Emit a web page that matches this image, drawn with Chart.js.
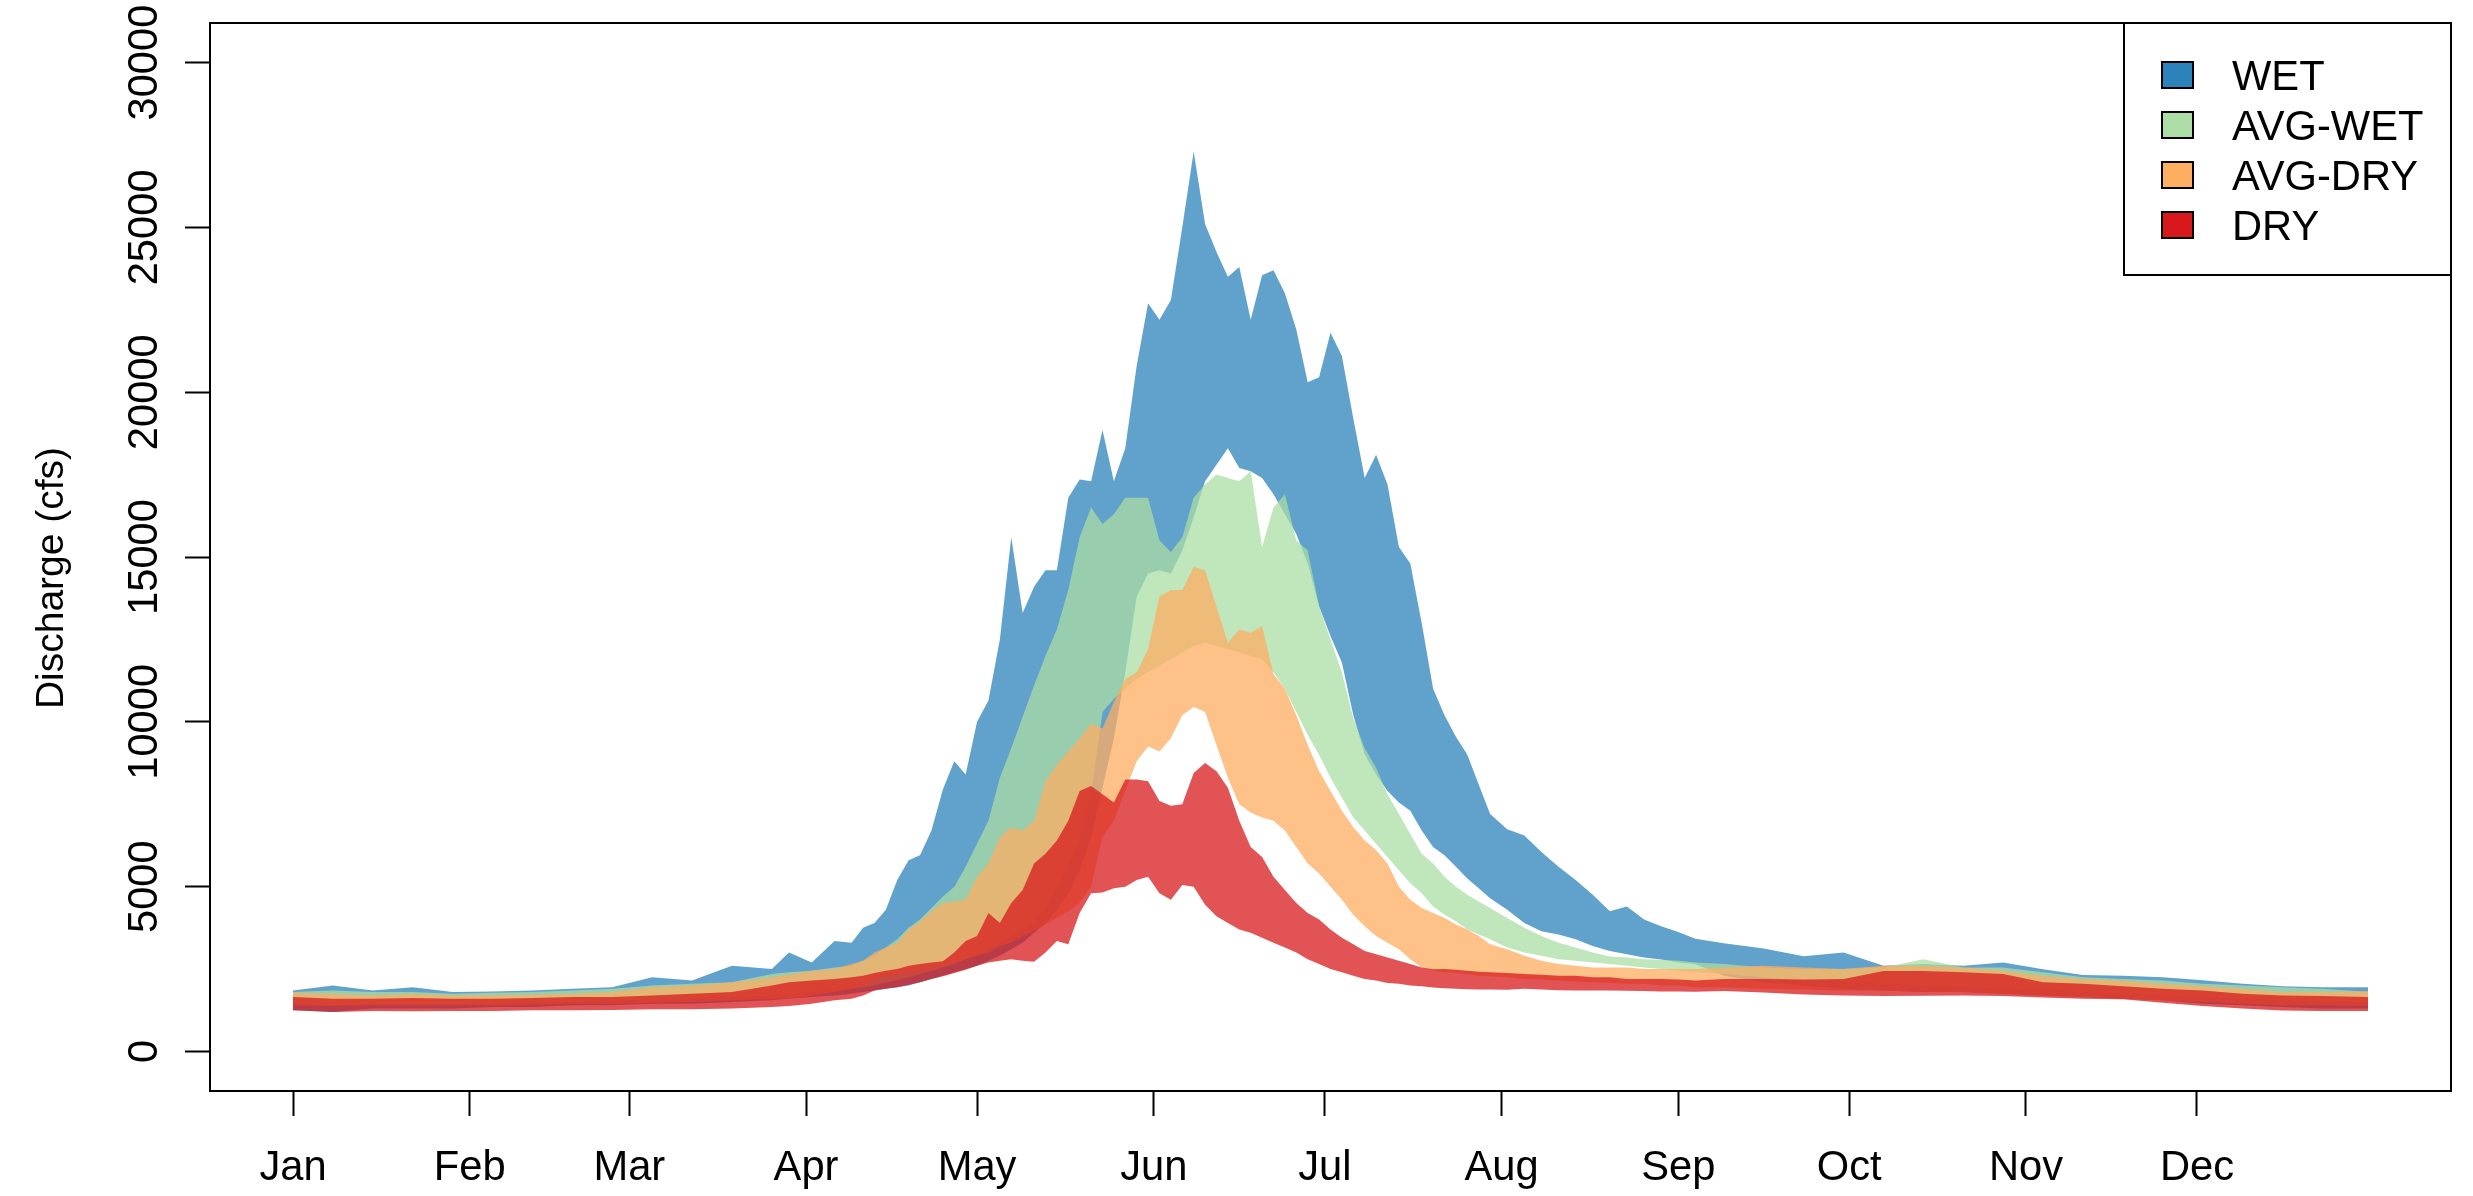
<!DOCTYPE html>
<html>
<head>
<meta charset="utf-8">
<script src="https://cdn.jsdelivr.net/npm/chart.js@4.4.1/dist/chart.umd.min.js"></script>
<style>
  html, body { margin: 0; padding: 0; background: #fff; }
  #wrap { width: 2473px; height: 1196px; }
</style>
</head>
<body>
<div id="wrap"><canvas id="flowChart" width="2473" height="1196"></canvas></div>
<script>
// Daily discharge envelopes (min/max) by year type
const days = [
  1, 8, 15, 22, 29, 36, 43, 50, 57, 64, 71, 78, 85,
  88, 92, 96, 99,
  101, 103, 105, 107, 109, 111, 113, 115, 117, 119,
  121, 123, 125, 127, 129, 131, 133, 135, 137, 139,
  141, 143, 145, 147, 149, 151, 153, 155, 157, 159,
  161, 163, 165, 167, 169, 171, 173, 175, 177, 179,
  181, 183, 185, 187, 189, 191, 193, 195, 197, 199,
  201, 203, 205, 207, 209, 211,
  214, 217, 220, 223, 226, 229, 232, 235, 238, 241, 244, 247,
  252, 259, 266, 273, 280, 287, 294, 301, 308, 315, 322, 329, 336, 343, 350, 357, 365
];

const wetHi = [
  1850, 2000, 1850, 1950, 1800, 1820, 1850, 1900, 1950, 2250, 2150, 2600, 2500,
  3000, 2700, 3350, 3300,
  3750, 3900, 4300, 5200, 5800, 5950, 6700, 7950, 8800, 8400,
  10000, 10650, 12500, 15600, 13300, 14100, 14600, 14600, 16800, 17350,
  17300, 18850, 17300, 18300, 20800, 22700, 22200, 22800, 25000, 27300,
  25100, 24250, 23500, 23800, 22200, 23550, 23700, 23000, 21900, 20300,
  20450, 21800, 21100, 19200, 17400, 18100, 17200, 15300, 14800, 13000,
  11000, 10200, 9550, 9000, 8100, 7200,
  6740, 6550, 6050, 5600, 5200, 4750, 4250, 4400, 4000, 3800, 3620, 3420,
  3280, 3120, 2890, 3000, 2600, 2650, 2600, 2700, 2490, 2320, 2300, 2250, 2160, 2050, 1980, 1950, 1950
];
const wetLo = [
  1250, 1200, 1300, 1300, 1300, 1350, 1350, 1400, 1400, 1450, 1450, 1500, 1550,
  1600, 1650, 1700, 1750,
  1800, 1850, 1900, 1950, 2000, 2100, 2200, 2300, 2400, 2500,
  2600, 2750, 2900, 3100, 3300, 3600, 3900, 4300, 4800, 5500,
  6500, 8000, 9500, 11500, 13800, 14500, 14600, 14500, 15200, 16200,
  17300, 17800, 18300, 17700, 17600, 17400, 16900, 16300, 15700, 14800,
  13500, 12600, 11800, 10200, 9000, 8400, 7900, 7550, 7300, 6700,
  6200, 5950, 5600, 5250, 4950, 4650,
  4300, 3900, 3650, 3550, 3400, 3200, 3050, 2950, 2850, 2790, 2700, 2650,
  2300, 2100, 2000, 1900, 1850, 1800, 1800, 1750, 1700, 1650, 1600, 1550, 1450, 1400, 1350, 1300, 1300
];

const avgWetHi = [
  1800, 1850, 1800, 1800, 1750, 1780, 1800, 1850, 1900, 2000, 2050, 2100, 2350,
  2400, 2450, 2550, 2600,
  2750, 2900, 3150, 3400, 3750, 4000, 4350, 4700, 5000, 5600,
  6300, 7000, 8300, 9200, 10150, 11100, 12000, 12800, 14000, 15600,
  16500, 16000, 16300, 16800, 16800, 16800, 15500, 15150, 15600, 16800,
  17200, 17500, 17400, 17300, 17600, 15300, 16500, 16900, 15500, 15200,
  13500, 12500, 11500, 10100, 9200, 8600, 7800, 7200, 6600, 6000,
  5700, 5300, 5000, 4750, 4550, 4350,
  4050, 3750, 3500, 3300, 3150, 3000, 2880, 2850, 2800, 2780, 2750, 2700,
  2650, 2550, 2500, 2500, 2550, 2800, 2550, 2550, 2400, 2250, 2200, 2150, 2050, 2000, 1950, 1900, 1800
];
const avgWetLo = [
  1450, 1400, 1450, 1450, 1450, 1450, 1500, 1500, 1550, 1550, 1600, 1650, 1700,
  1750, 1800, 1850, 1900,
  1950, 2000, 2100, 2150, 2250, 2350, 2450, 2550, 2650, 2800,
  2950, 3100, 3300, 3500, 3700, 3900, 4300, 4900, 5600, 6400,
  7800, 10300, 10700, 11000, 11300, 11500, 11700, 11900, 12100, 12300,
  12400, 12300, 12200, 12100, 12000, 11900, 11500, 11000, 10300, 9600,
  9000, 8300, 7700, 7100, 6700, 6300, 5900, 5500, 5100, 4800,
  4400, 4150, 3950, 3700, 3550, 3400,
  3150, 3000, 2900, 2800, 2750, 2700, 2650, 2600, 2550, 2500, 2450, 2400,
  2350, 2250, 2150, 2100, 2050, 2000, 1950, 1900, 1850, 1800, 1750, 1700, 1650, 1600, 1550, 1500, 1500
];

const avgDryHi = [
  1780, 1750, 1700, 1750, 1700, 1700, 1720, 1750, 1800, 1950, 2000, 2100, 2250,
  2330, 2450, 2500, 2650,
  2750, 3000, 3150, 3300, 3700, 3950, 4250, 4500, 4550, 4600,
  5300, 5700, 6500, 6800, 6700, 7000, 8200, 8700, 9100, 9500,
  9950, 9800, 10600, 11300, 11500, 12200, 13800, 14000, 14000, 14700,
  14600, 13500, 12400, 12800, 12700, 12900, 11450, 11000, 10200, 9300,
  8500, 7900, 7300, 6800, 6400, 6100, 5700, 5000, 4600, 4350,
  4200, 4050, 3850, 3700, 3500, 3250,
  3100, 2900, 2750, 2650, 2600, 2550, 2550, 2550, 2500, 2500, 2500, 2500,
  2550, 2600, 2550, 2500, 2600, 2600, 2550, 2450, 2300, 2200, 2150, 2050, 1980, 1900, 1800, 1800, 1830
];
const avgDryLo = [
  1400, 1380, 1400, 1400, 1400, 1400, 1420, 1450, 1450, 1480, 1500, 1550, 1580,
  1600, 1700, 1800, 1900,
  2000, 2200, 2300, 2350, 2400, 2450, 2500, 2600, 2700, 2800,
  2900, 3000, 3200, 3300, 3500, 3650, 3850, 4050, 4250, 4500,
  5000, 6500, 7000, 7900, 8800, 9250, 9100, 9500, 10200, 10450,
  10300, 9300, 8300, 7500, 7250, 7100, 7000, 6700, 6200, 5700,
  5400, 5000, 4600, 4150, 3800, 3500, 3300, 3100, 2800, 2550,
  2450, 2400, 2380, 2350, 2300, 2280,
  2250, 2200, 2180, 2150, 2120, 2100, 2080, 2050, 2050, 2000, 2000, 1950,
  1950, 1900, 1880, 1850, 1850, 1800, 1800, 1750, 1700, 1650, 1600, 1550, 1500, 1450, 1400, 1400, 1380
];

const dryHi = [
  1650, 1600, 1600, 1620, 1600, 1600, 1620, 1650, 1650, 1700, 1750, 1800, 2000,
  2100, 2150, 2200, 2250,
  2300, 2380, 2450, 2500, 2600, 2650, 2700, 2740, 3000, 3350,
  3500, 4200, 3900, 4500, 4900, 5700, 6000, 6400, 7000, 7900,
  8050, 7800, 7550, 8250, 8250, 8200, 7600, 7450, 7500, 8450,
  8750, 8500, 8000, 7000, 6200, 5900, 5300, 4900, 4500, 4200,
  4000, 3700, 3450, 3250, 3050, 2950, 2850, 2750, 2650, 2550,
  2490, 2500, 2480, 2450, 2420, 2400,
  2380, 2350, 2330, 2300, 2300, 2250, 2250, 2200, 2200, 2200, 2180, 2150,
  2200, 2200, 2180, 2200, 2440, 2440, 2400, 2350, 2100, 2050, 1980, 1900, 1850, 1750, 1700, 1680, 1650
];
const dryLo = [
  1250, 1200, 1230, 1220, 1230, 1230, 1250, 1250, 1260, 1280, 1280, 1300, 1350,
  1380, 1450, 1550, 1600,
  1700, 1850, 1900, 1950, 2020, 2100, 2200, 2280, 2380, 2480,
  2600, 2700, 2750, 2800, 2750, 2720, 3000, 3350, 3250, 4200,
  4800, 4820, 4950, 5000, 5200, 5300, 4800, 4600, 5050, 5000,
  4450, 4100, 3900, 3700, 3600, 3450, 3300, 3150, 3000, 2800,
  2650, 2500, 2400, 2300, 2200, 2150, 2080, 2050, 2000, 1980,
  1940, 1920, 1900, 1890, 1880, 1880,
  1870, 1900, 1880, 1860, 1850, 1850, 1850, 1840, 1830, 1820, 1820, 1810,
  1830, 1790, 1730, 1700, 1680, 1690, 1700, 1680, 1640, 1600, 1580, 1480, 1380, 1300, 1240, 1230, 1230
];

const monthDays = [1, 32, 60, 91, 121, 152, 182, 213, 244, 274, 305, 335];
const monthLabels = ['Jan', 'Feb', 'Mar', 'Apr', 'May', 'Jun', 'Jul', 'Aug', 'Sep', 'Oct', 'Nov', 'Dec'];
const yTicks = [0, 5000, 10000, 15000, 20000, 25000, 30000];

const legendNames = ['WET', 'AVG-WET', 'AVG-DRY', 'DRY'];
const legendColors = ['#2b83ba', '#abdda4', '#fdae61', '#d7191c'];

const FONT = '"Liberation Sans", Arial, sans-serif';
const FONT_PX = 41.7;
const TITLE_PX = 39;

// polygon: upper edge forward, lower edge back
function bandPoints(hi, lo) {
  const pts = days.map((d, i) => ({ x: d, y: hi[i] }));
  for (let i = days.length - 1; i >= 0; i--) pts.push({ x: days[i], y: lo[i] });
  return pts;
}

function bandSet(label, hi, lo, fillColor, order) {
  return {
    label: label,
    data: bandPoints(hi, lo),
    backgroundColor: fillColor,
    borderColor: 'rgba(0,0,0,0)',
    borderWidth: 0,
    pointRadius: 0,
    fill: 'shape',
    order: order
  };
}

// box around the plot region
const framePlugin = {
  id: 'frame',
  afterDraw(chart) {
    const { ctx, chartArea: a } = chart;
    ctx.save();
    ctx.strokeStyle = '#000';
    ctx.lineWidth = 2;
    ctx.strokeRect(a.left, a.top, a.right - a.left, a.bottom - a.top);
    ctx.restore();
  }
};

// rotated y tick labels and axis title
const yTextPlugin = {
  id: 'yText',
  afterDraw(chart) {
    const ctx = chart.ctx;
    const y = chart.scales.y;
    ctx.save();
    ctx.fillStyle = '#000';
    ctx.font = FONT_PX + 'px ' + FONT;
    ctx.textAlign = 'center';
    ctx.textBaseline = 'alphabetic';
    yTicks.forEach(v => {
      ctx.save();
      ctx.translate(157, y.getPixelForValue(v));
      ctx.rotate(-Math.PI / 2);
      ctx.fillText(String(v), 0, 0);
      ctx.restore();
    });
    ctx.font = TITLE_PX + 'px ' + FONT;
    ctx.translate(63, 578);
    ctx.rotate(-Math.PI / 2);
    ctx.fillText('Discharge (cfs)', 0, 0);
    ctx.restore();
  }
};

// R-style boxed legend, top right
const legendPlugin = {
  id: 'boxLegend',
  afterDraw(chart) {
    const { ctx, chartArea: a } = chart;
    const boxLeft = 2124, boxTop = a.top, boxRight = a.right, boxBottom = 275;
    ctx.save();
    ctx.fillStyle = '#fff';
    ctx.fillRect(boxLeft, boxTop, boxRight - boxLeft, boxBottom - boxTop);
    ctx.strokeStyle = '#000';
    ctx.lineWidth = 2;
    ctx.strokeRect(boxLeft, boxTop, boxRight - boxLeft, boxBottom - boxTop);
    ctx.font = FONT_PX + 'px ' + FONT;
    ctx.textAlign = 'left';
    ctx.textBaseline = 'alphabetic';
    legendNames.forEach((name, i) => {
      const base = 90 + i * 50;
      ctx.fillStyle = legendColors[i];
      ctx.fillRect(2162, base - 28, 31, 26);
      ctx.lineWidth = 2;
      ctx.strokeRect(2162, base - 28, 31, 26);
      ctx.fillStyle = '#000';
      ctx.fillText(name, 2232, base);
    });
    ctx.restore();
  }
};

const tickGrid = {
  drawOnChartArea: false,
  drawTicks: true,
  tickLength: 25,
  tickWidth: 2,
  tickColor: '#000'
};

new Chart(document.getElementById('flowChart'), {
  type: 'line',
  data: {
    datasets: [
      bandSet('WET', wetHi, wetLo, 'rgba(43, 131, 186, 0.75)', 4),
      bandSet('AVG-WET', avgWetHi, avgWetLo, 'rgba(171, 221, 164, 0.75)', 3),
      bandSet('AVG-DRY', avgDryHi, avgDryLo, 'rgba(253, 174, 97, 0.75)', 2),
      bandSet('DRY', dryHi, dryLo, 'rgba(215, 25, 28, 0.75)', 1)
    ]
  },
  options: {
    responsive: false,
    animation: false,
    devicePixelRatio: 1,
    events: [],
    layout: { padding: { top: 23, right: 22, left: 0, bottom: 0 } },
    elements: { line: { tension: 0 }, point: { radius: 0 } },
    plugins: {
      legend: { display: false },
      tooltip: { enabled: false }
    },
    scales: {
      x: {
        type: 'linear',
        min: -13.56,
        max: 379.56,
        afterBuildTicks: s => { s.ticks = monthDays.map(v => ({ value: v })); },
        afterFit: s => { s.height = 105; },
        grid: tickGrid,
        border: { display: false },
        ticks: {
          autoSkip: false,
          maxRotation: 0,
          minRotation: 0,
          padding: 27,
          color: '#000',
          font: { family: FONT, size: FONT_PX },
          callback: v => monthLabels[monthDays.indexOf(v)]
        }
      },
      y: {
        type: 'linear',
        min: -1200,
        max: 31200,
        afterBuildTicks: s => { s.ticks = yTicks.map(v => ({ value: v })); },
        afterFit: s => { s.width = 210; },
        grid: tickGrid,
        border: { display: false },
        ticks: { display: false }
      }
    }
  },
  plugins: [framePlugin, yTextPlugin, legendPlugin]
});
</script>
</body>
</html>
